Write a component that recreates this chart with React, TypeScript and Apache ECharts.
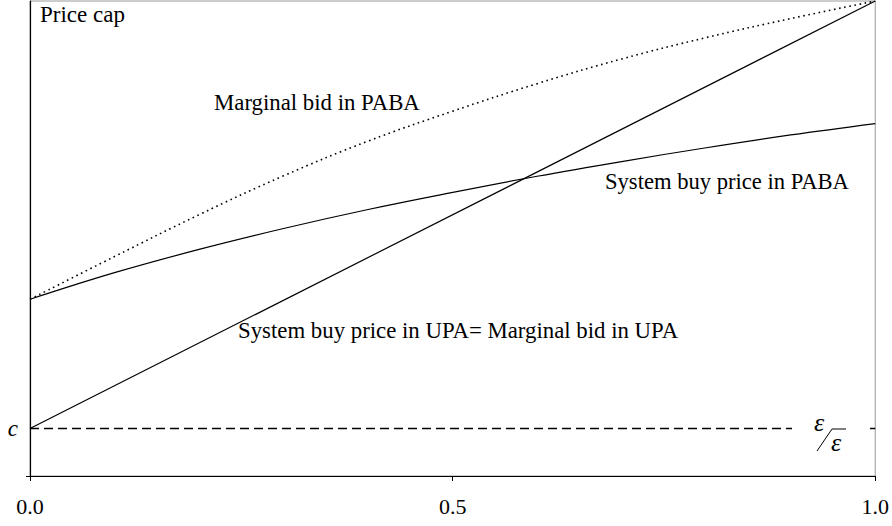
import React, { useEffect, useRef } from "react";
import * as echarts from "echarts";

const xs = [0, 0.1, 0.2, 0.3, 0.4, 0.5, 0.6, 0.7, 0.8, 0.9, 1.0];
const pabaSystemBuy = [0.372, 0.428, 0.477, 0.521, 0.561, 0.597, 0.631, 0.662, 0.691, 0.718, 0.742];
const pabaMarginalBid = [0.372, 0.462, 0.55, 0.632, 0.705, 0.768, 0.826, 0.878, 0.923, 0.963, 1.0];
const upaX = [0, 1];
const upaY = [0.1, 1.0];
const costC = 0.1;
const xTickValues = [0, 0.5, 1];

const FONT = "'Liberation Serif', 'Times New Roman', serif";

export default function App() {
  const ref = useRef<HTMLDivElement>(null);
  useEffect(() => {
    if (!ref.current) return;
    const chart = echarts.init(ref.current, undefined, { renderer: "svg" });
    chart.setOption({
      animation: false,
      grid: { left: 30, right: 16, top: 1, bottom: 50, show: true, borderColor: "#9a9a9a", borderWidth: 1 },
      xAxis: {
        type: "value",
        min: 0,
        max: 1,
        interval: 0.5,
        axisLine: { show: true, onZero: false, lineStyle: { color: "#000", width: 1.2 } },
        axisTick: { show: true, inside: false, length: 5, lineStyle: { color: "#000" } },
        splitLine: { show: false },
        axisLabel: {
          margin: 19,
          color: "#000",
          fontFamily: FONT,
          fontSize: 22,
          customValues: xTickValues,
          formatter: (v: number) => v.toFixed(1),
        },
      },
      yAxis: {
        type: "value",
        min: 0,
        max: 1,
        axisLine: { show: true, onZero: false, lineStyle: { color: "#000", width: 1.2 } },
        axisTick: { show: true, length: 4, customValues: [0], lineStyle: { color: "#000" } },
        splitLine: { show: false },
        axisLabel: {
          margin: 12,
          color: "#000",
          fontFamily: FONT,
          fontSize: 23,
          fontStyle: "italic",
          customValues: [costC],
          formatter: () => "c",
        },
      },
      series: [
        {
          type: "line",
          data: upaX.map((x, i) => [x, upaY[i]]),
          showSymbol: false,
          lineStyle: { color: "#000", width: 1.2 },
        },
        {
          type: "line",
          data: xs.map((x, i) => [x, pabaSystemBuy[i]]),
          showSymbol: false,
          smooth: 0.4,
          lineStyle: { color: "#000", width: 1.2 },
        },
        {
          type: "line",
          data: xs.map((x, i) => [x, pabaMarginalBid[i]]),
          showSymbol: false,
          smooth: 0.4,
          lineStyle: { color: "#000", width: 1.6, type: [1.6, 3.6] },
        },
        {
          type: "line",
          data: [[0, costC], [1, costC]],
          showSymbol: false,
          lineStyle: { color: "#000", width: 1.6, type: [9, 5] },
        },
      ],
      graphic: [
        { type: "text", x: 40, y: 14, z: 100, style: { text: "Price cap", font: `23px ${FONT}`, fill: "#000", verticalAlign: "middle" } },
        { type: "text", x: 214, y: 102, z: 100, style: { text: "Marginal bid in PABA", font: `22.8px ${FONT}`, fill: "#000", verticalAlign: "middle" } },
        { type: "text", x: 605, y: 181, z: 100, style: { text: "System buy price in PABA", font: `22.6px ${FONT}`, fill: "#000", verticalAlign: "middle" } },
        { type: "text", x: 238, y: 330, z: 100, style: { text: "System buy price in UPA= Marginal bid in UPA", font: `22.8px ${FONT}`, fill: "#000", verticalAlign: "middle" } },
        { type: "rect", z: 99, shape: { x: 792, y: 420, width: 76, height: 16 }, style: { fill: "#fff" } },
        { type: "text", x: 814, y: 422, z: 100, style: { text: "ε", font: `italic 26px ${FONT}`, fill: "#000", verticalAlign: "middle" } },
        { type: "text", x: 831, y: 442, z: 100, style: { text: "ε", font: `italic 26px ${FONT}`, fill: "#000", verticalAlign: "middle" } },
        { type: "line", z: 100, shape: { x1: 817, y1: 451, x2: 832, y2: 429 }, style: { stroke: "#000", lineWidth: 1 } },
        { type: "line", z: 100, shape: { x1: 832, y1: 429, x2: 846, y2: 429 }, style: { stroke: "#000", lineWidth: 1 } },
      ],
    });
    return () => chart.dispose();
  }, []);
  return <div ref={ref} style={{ width: 892, height: 526, position: "absolute", left: 0, top: 0 }} />;
}
